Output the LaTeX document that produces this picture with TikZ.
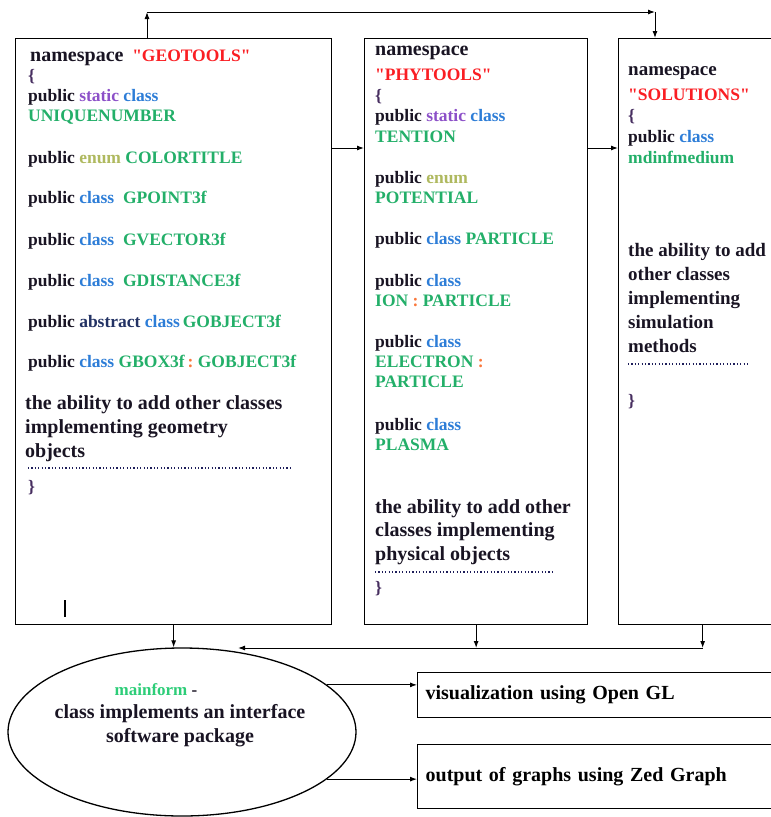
\documentclass[tikz,border=0pt]{standalone}
\usepackage{fontspec}
\setmainfont{Liberation Serif}[Ligatures=TeXOff]
\usetikzlibrary{arrows.meta, positioning, shapes.geometric, calc}
\definecolor{KwPublic}{RGB}{25,20,35}
\definecolor{KwStatic}{RGB}{140,80,200}
\definecolor{KwClass}{RGB}{45,125,215}
\definecolor{KwEnum}{RGB}{175,185,95}
\definecolor{KwAbstract}{RGB}{35,50,100}
\definecolor{ClassName}{RGB}{35,175,105}
\definecolor{NsName}{RGB}{250,30,35}
\definecolor{BraceCol}{RGB}{70,45,95}
\definecolor{ColonCol}{RGB}{250,120,60}
\definecolor{DotCol}{RGB}{30,30,90}
\definecolor{MainCol}{RGB}{45,205,120}
\newcommand{\kwpub}{\textcolor{KwPublic}{public}}
\newcommand{\kwstatic}{\textcolor{KwStatic}{static}}
\newcommand{\kwclass}{\textcolor{KwClass}{class}}
\newcommand{\kwenum}{\textcolor{KwEnum}{enum}}
\newcommand{\kwabstract}{\textcolor{KwAbstract}{abstract}}
\newcommand{\clname}[1]{\textcolor{ClassName}{#1}}
\newcommand{\clcolon}{\textcolor{ColonCol}{:}}
\newcommand{\nsname}[1]{\textcolor{NsName}{#1}}
\newcommand{\brcopen}{\textcolor{BraceCol}{\{}}
\newcommand{\brcclose}{\textcolor{BraceCol}{\}}}

\begin{document}
\begin{tikzpicture}[x=1pt, y=-1pt,
  nsbox/.style={draw, line width=1.3pt, anchor=north west, inner sep=0pt},
  codeline/.style={anchor=base west, inner sep=0pt, text=KwPublic,
                   font=\bfseries\fontsize{17.5}{20}\selectfont},
  bigline/.style={anchor=base west, inner sep=0pt, text=KwPublic,
                  font=\bfseries\fontsize{20}{24}\selectfont},
  dotrow/.style={draw=DotCol, line width=1.4pt, dash pattern=on 1.2pt off 2.2pt},
  arr/.style={-{Latex[length=7pt,width=5pt]}, line width=1pt},
  outbox/.style={draw, line width=1.3pt, anchor=north west, align=left, inner xsep=8pt,
                 text width=350pt, font=\bfseries\fontsize{20}{24}\selectfont},
]
\useasboundingbox (0,0) rectangle (771,817);
\clip (0,0) rectangle (771,817);
%% namespace boxes
\node[nsbox, minimum width=316pt, minimum height=586pt] (geo) at (15,38) {};
\node[nsbox, minimum width=223pt, minimum height=586pt] (phy) at (364,38) {};
\node[nsbox, minimum width=168pt, minimum height=586pt] (sol) at (618,38) {};
%% GEOTOOLS
\node[codeline] (geo-ns) at (30,61)
  {{\fontsize{20}{24}\selectfont namespace}\ \ \nsname{"GEOTOOLS"}};
\foreach \yy/\txt [count=\i] in {
  81/{\brcopen},
  101/{\kwpub\ \kwstatic\ \kwclass},
  121/{\clname{UNIQUENUMBER}},
  163/{\kwpub\ \kwenum\ \clname{COLORTITLE}},
  203/{\kwpub\ \kwclass\ \ \clname{GPOINT3f}},
  245/{\kwpub\ \kwclass\ \ \clname{GVECTOR3f}},
  286/{\kwpub\ \kwclass\ \ \clname{GDISTANCE3f}},
  327/{\kwpub\ \kwabstract\ \kwclass\,\clname{GOBJECT3f}},
  367/{\kwpub\ \kwclass\ \clname{GBOX3f}\,\clcolon\ \clname{GOBJECT3f}},
  492/{\brcclose}}
  \node[codeline] (geo-\i) at (28,\yy) {\txt};
\foreach \yy/\txt [count=\i] in {
  409/{the ability to add other classes},
  433/{implementing geometry},
  457/{objects}}
  \node[bigline] (geo-b\i) at (25,\yy) {\txt};
\draw[dotrow] (28,468) -- (290,468);
\draw[line width=2.2pt] (65,600) -- (65,617);
%% PHYTOOLS
\foreach \yy/\txt [count=\i] in {
  80/{\nsname{"PHYTOOLS"}},
  101/{\brcopen},
  121/{\kwpub\ \kwstatic\ \kwclass},
  142/{\clname{TENTION}},
  183/{\kwpub\ \kwenum},
  203/{\clname{POTENTIAL}},
  244/{\kwpub\ \kwclass\ \clname{PARTICLE}},
  286/{\kwpub\ \kwclass},
  306/{\clname{ION}\ \clcolon\ \clname{PARTICLE}},
  347/{\kwpub\ \kwclass},
  367/{\clname{ELECTRON}\ \clcolon},
  387/{\clname{PARTICLE}},
  430/{\kwpub\ \kwclass},
  450/{\clname{PLASMA}},
  593/{\brcclose}}
  \node[codeline] (phy-\i) at (375,\yy) {\txt};
\foreach \yy/\txt [count=\i] in {
  55/{namespace},
  513/{the ability to add other},
  536/{classes implementing},
  560/{physical objects}}
  \node[bigline] (phy-b\i) at (375,\yy) {\txt};
\draw[dotrow] (375,572) -- (553,572);
%% SOLUTIONS
\foreach \yy/\txt [count=\i] in {
  100/{\nsname{"SOLUTIONS"}},
  121/{\brcopen},
  142/{\kwpub\ \kwclass},
  163/{\clname{mdinfmedium}},
  406/{\brcclose}}
  \node[codeline] (sol-\i) at (628,\yy) {\txt};
\foreach \yy/\txt [count=\i] in {
  75/{namespace},
  256/{the ability to add},
  280/{other classes},
  304/{implementing},
  328/{simulation},
  352/{methods}}
  \node[bigline, font=\bfseries\fontsize{19}{24}\selectfont] (sol-b\i) at (628,\yy) {\txt};
\draw[dotrow] (628,364) -- (750,364);
%% main form and outputs
\node[draw, ellipse, line width=1.3pt, minimum width=348pt, minimum height=168pt, inner sep=0pt]
  (mf) at (182,732) {};
\node[inner sep=0pt, text=KwPublic, font=\bfseries\fontsize{17}{20}\selectfont]
  (mf-head) at (156,690) {\textcolor{MainCol}{mainform} -};
\node[inner sep=0pt, align=center, text=KwPublic, font=\bfseries\fontsize{20}{24}\selectfont]
  (mf-body) at (180,726) {class implements an interface\\software package};
\node[outbox, minimum height=45pt] (vis) at (417,672) {visualization using Open GL};
\node[outbox, minimum height=64pt] (zed) at (417,744) {output of graphs using Zed Graph};
%% connectors
\coordinate (topl) at (147,12);
\coordinate (topr) at (655,12);
\coordinate (side) at (0,148);
\coordinate (jn) at (0,648);
\coordinate (jnend) at (238,648);
\draw[arr] (topl |- geo.north) -- (topl);
\draw[arr] (topl) -- (topr);
\draw[arr] (topr) -- (topr |- sol.north);
\draw[arr] (geo.east |- side) -- (phy.west |- side);
\draw[arr] (phy.east |- side) -- (sol.west |- side);
\draw[arr] (geo.south) -- (geo.south |- mf.north);
\draw[arr] (phy.south) -- (phy.south |- jn);
\draw[arr] (sol.south) -- (sol.south |- jn);
\draw[arr] (sol.south |- jn) -- (jnend);
\draw[arr] (mf.18) -- (mf.18 -| vis.west);
\draw[arr] (mf.-18) -- (mf.-18 -| zed.west);
\end{tikzpicture}
\end{document}
